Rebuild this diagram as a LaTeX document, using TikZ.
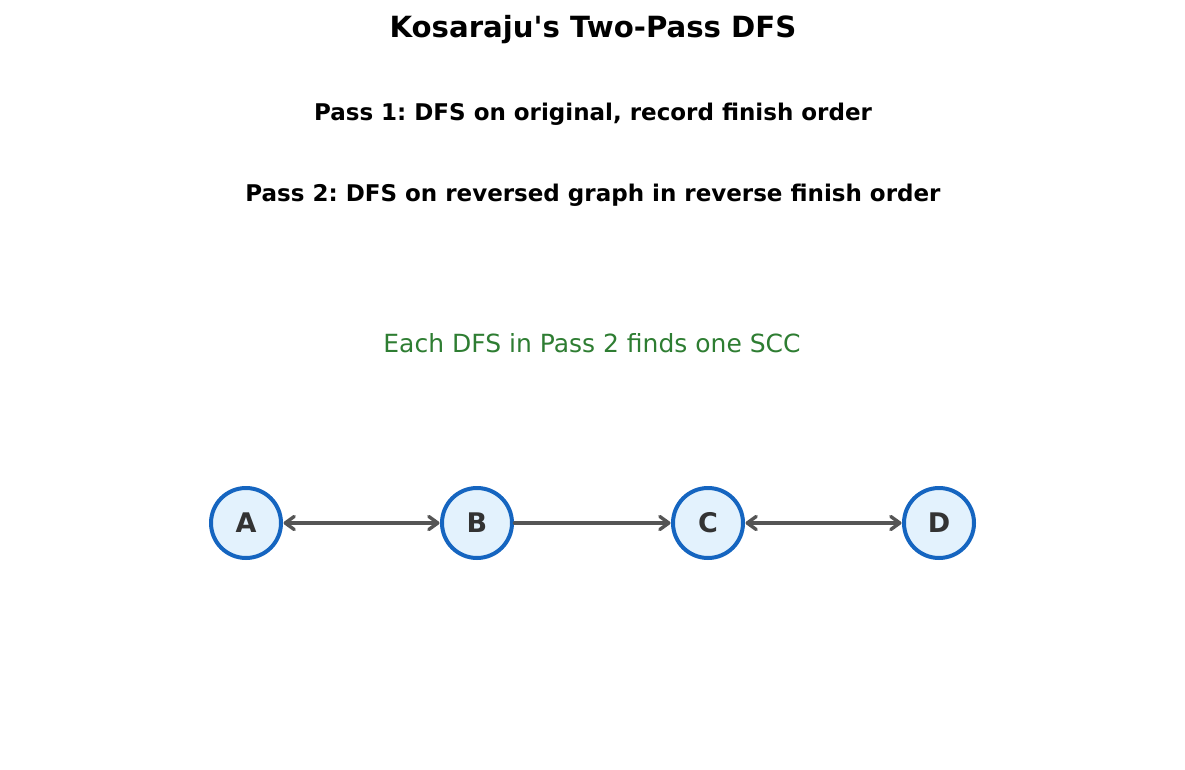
\documentclass[tikz,border=0pt]{standalone}
\usepackage{fontspec}
\setmainfont{DejaVu Sans}[Ligatures=TeXOff]
\frenchspacing
\usetikzlibrary{arrows.meta}
\definecolor{nodefill}{HTML}{E3F2FD}
\definecolor{nodedraw}{HTML}{1565C0}
\definecolor{edgecol}{HTML}{555555}
\definecolor{labcol}{HTML}{333333}
\definecolor{notegreen}{HTML}{2E7D32}
\tikzset{
  vertex/.style={circle, draw=nodedraw, fill=nodefill, line width=4pt, minimum size=70pt, inner sep=0pt, text=labcol, font=\fontsize{27}{32}\selectfont\bfseries},
  edge/.style={draw=edgecol, line width=3.4pt, line cap=round, shorten <=0.5pt, shorten >=0.5pt},
  tip/.tip={Straight Barb[length=9pt, width=13pt, line width=3.4pt, round]},
  titletext/.style={font=\fontsize{29.2}{34}\selectfont\bfseries},
  passtext/.style={font=\fontsize{23}{27}\selectfont\bfseries},
  notetext/.style={font=\fontsize{25}{30}\selectfont, text=notegreen}
}
\begin{document}
\begin{tikzpicture}[x=1pt,y=-1pt]
\useasboundingbox (0,0) rectangle (1185,770);
\node[titletext] (title) at (593,30) {Kosaraju's Two-Pass DFS};
\node[passtext] (p1) at (593,114) {Pass 1: DFS on original, record finish order};
\node[passtext] (p2) at (593,195) {Pass 2: DFS on reversed graph in reverse finish order};
\node[notetext] (note) at (592,343) {Each DFS in Pass 2 finds one SCC};
\node[vertex] (A) at (246,523) {A};
\node[vertex] (B) at (477,523) {B};
\node[vertex] (C) at (708,523) {C};
\node[vertex] (D) at (939,523) {D};
\draw[edge, {tip}-{tip}] (A) -- (B);
\draw[edge, -{tip}] (B) -- (C);
\draw[edge, {tip}-{tip}] (C) -- (D);
\end{tikzpicture}
\end{document}
